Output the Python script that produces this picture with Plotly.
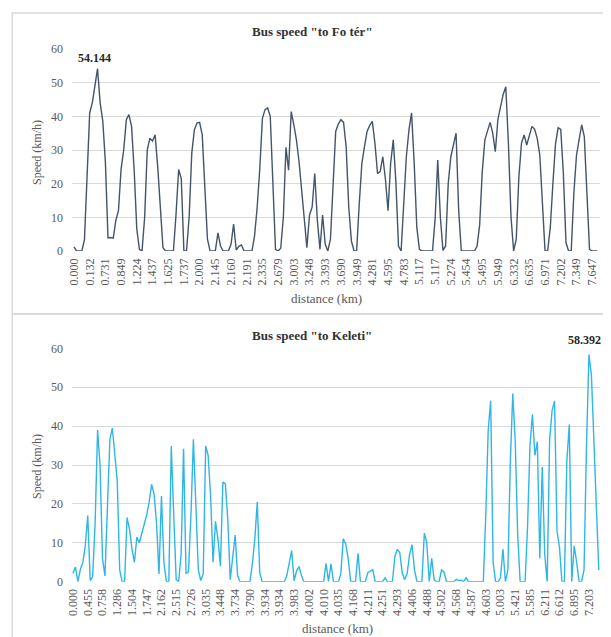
import plotly.graph_objects as go
import numpy as np

# ---------------- data ----------------
top_title = 'Bus speed "to Fo tér"'
bottom_title = 'Bus speed "to Keleti"'

top_tick_labels = ["0.000", "0.132", "0.731", "0.849", "1.224", "1.437", "1.625", "1.737",
                   "2.000", "2.145", "2.160", "2.191", "2.335", "2.679", "3.003", "3.248",
                   "3.393", "3.690", "3.949", "4.281", "4.595", "4.783", "5.117", "5.117",
                   "5.274", "5.454", "5.495", "5.949", "6.332", "6.635", "6.971", "7.202",
                   "7.349", "7.647"]

bottom_tick_labels = ["0.000", "0.455", "0.758", "1.286", "1.504", "1.747", "2.162", "2.515",
                      "2.726", "3.035", "3.448", "3.734", "3.790", "3.934", "3.934", "3.983",
                      "4.002", "4.010", "4.035", "4.168", "4.211", "4.251", "4.293", "4.406",
                      "4.488", "4.502", "4.568", "4.587", "4.603", "5.003", "5.421", "5.585",
                      "6.211", "6.612", "6.895", "7.203"]

# speed readings (km/h), one per sample; a distance label every 6 samples
top_speed = [1.2, 0, 0, 0, 3.4, 22, 41, 44, 49.5, 54.144,
             44, 38.6, 26.4, 3.9, 4, 3.8, 9.1, 12, 24.4, 30,
             39, 40.5, 37, 24, 6.5, 0.5, 0, 10, 30, 33.5,
             32.7, 34.5, 25, 11, 1, 0, 0, 0, 0, 11,
             24.2, 21.5, 0, 0, 10, 29, 36, 38, 38.2, 34.5,
             18, 3.5, 0, 0, 0, 5.4, 1.5, 0, 0, 0,
             2, 8, 0.3, 1.4, 1.8, 0, 0, 0, 0, 4.5,
             13, 24.5, 39.4, 42, 42.5, 40, 22, 0.5, 0, 0.8,
             10, 30.8, 24, 41.4, 37.5, 33, 26.5, 18.5, 11, 1,
             10.7, 13, 23, 9, 0.5, 10.7, 2, 0, 3.5, 21,
             35.5, 37.7, 39, 38.2, 31, 13, 3, 0, 0, 14,
             26, 31, 35.5, 37.3, 38.5, 32, 23, 23.6, 28, 21.4,
             12, 26, 33, 20.6, 1.5, 0, 15, 28, 36, 41,
             26, 7, 0.5, 0, 0, 0, 0, 0, 9.6, 27,
             10, 0.2, 1.5, 20, 28, 32, 35, 12, 0, 0,
             0, 0, 0, 0, 1.3, 7.6, 23.5, 33, 35.6, 38.2,
             35, 29.5, 39.2, 42.5, 46.5, 48.8, 32, 10, 0, 3.5,
             22, 32, 34.5, 31.5, 34, 37, 36.2, 33.5, 28.5, 12,
             0, 0, 7, 20, 31.8, 36.6, 36.1, 23, 2.5, 0,
             0, 17, 28.3, 33, 37.5, 34, 18, 0.5, 0, 0,
             0]

bottom_speed = [2.2, 3.8, 0, 3.2, 4.9, 9.3, 17, 0.3, 1.3, 15,
                39, 30, 6, 1.5, 19, 36.5, 39.5, 32, 26, 3,
                0, 0, 16.5, 13.5, 8.4, 5, 11.5, 10, 12.5, 14.8,
                17.2, 20.5, 25, 22.5, 15, 2, 22, 5, 0, 0,
                34.9, 17, 0.5, 0, 7, 34.2, 2.2, 2.5, 17, 36.6,
                17, 3, 0.3, 2, 34.9, 32.5, 22, 5, 15.5, 11,
                4, 25.6, 25.2, 16, 0.5, 5.5, 12, 1.5, 0, 0,
                0, 0, 0, 4.5, 11, 20.5, 2.3, 0, 0, 0,
                0, 0, 0, 0, 0, 0, 0, 1.5, 4.7, 8,
                0.2, 2.8, 3.9, 1.5, 0, 0, 0, 0, 0, 0,
                0, 0, 0, 4.7, 0.1, 4.6, 0, 0, 0, 2,
                11, 9.7, 6, 0.1, 0, 0, 7.3, 0, 0, 0,
                2.3, 2.8, 3.1, 0, 0, 0, 0, 1, 0, 0,
                0, 6.5, 8.3, 7.5, 2.3, 0.5, 2.1, 7, 9.5, 3,
                0, 0, 0, 12.5, 10, 0, 6, 0.5, 0, 0,
                3, 2.5, 0, 0, 0, 0, 0.6, 0.3, 0.4, 0,
                1, 0, 0, 0, 0, 0, 0, 0, 17, 39,
                46.5, 5, 0, 0, 1, 8.4, 0, 3, 31, 48.4,
                36, 12, 0, 0, 0, 14, 35, 43, 32.5, 36,
                6, 29.5, 7, 0, 36.6, 44, 46.5, 13, 8.9, 0,
                0, 31, 40.4, 0, 9.2, 5, 0, 0, 3, 35,
                58.392, 53.2, 35, 22, 3]

LABEL_STEP = 6

# ---------------- helpers ----------------
# the page body adds an 8px margin, so the figure is placed at (8, 8)
OFF = 8
W, H = 611 - OFF, 637 - OFF


def px(x):
    return (x - OFF) / W


def py(y):
    return 1 - (y - OFF) / H


SERIF = "Liberation Serif, Times New Roman, serif"
TICK_FONT = dict(family=SERIF, size=12, color="#595959")
GRID = "#d9d9d9"

fig = go.Figure()
fig.add_trace(go.Scatter(x=list(range(len(top_speed))), y=top_speed, mode="lines",
                         line=dict(color="#44546A", width=1.4), xaxis="x", yaxis="y",
                         hoverinfo="skip", showlegend=False))
fig.add_trace(go.Scatter(x=list(range(len(bottom_speed))), y=bottom_speed, mode="lines",
                         line=dict(color="#2EB6E8", width=1.4), xaxis="x2", yaxis="y2",
                         hoverinfo="skip", showlegend=False))


def xaxis_cfg(labels, rng, anchor):
    return dict(domain=[px(72), px(600)], range=rng, anchor=anchor, automargin=False,
                tickvals=[i * LABEL_STEP for i in range(len(labels))], ticktext=labels,
                tickangle=-90, tickfont=TICK_FONT, showgrid=False, zeroline=False,
                showline=False, ticks="", ticklabelstandoff=4)


def yaxis_cfg(top_px, bot_px, anchor):
    return dict(domain=[py(bot_px), py(top_px)], range=[0, 60], dtick=10, anchor=anchor,
                automargin=False,
                tickfont=TICK_FONT, showgrid=True, gridcolor=GRID, gridwidth=1,
                zeroline=False, showline=False, ticks="", ticklabelstandoff=8)


fig.update_layout(
    width=W, height=H, margin=dict(l=0, r=0, t=0, b=0, autoexpand=False),
    paper_bgcolor="white", plot_bgcolor="white",
    xaxis=xaxis_cfg(top_tick_labels, [-0.76, 201.0], "y"),
    yaxis=yaxis_cfg(49, 251, "x"),
    xaxis2=xaxis_cfg(bottom_tick_labels, [-0.41, 214.5], "y2"),
    yaxis2=yaxis_cfg(348.3, 581.7, "x2"),
)


def paper_text(text, x, y, size=12, color="#595959", angle=0):
    return dict(text=text, x=px(x), y=py(y), xref="paper", yref="paper",
                xanchor="center", yanchor="middle", textangle=angle, showarrow=False,
                font=dict(family=SERIF, size=size, color=color))


annotations = [
    paper_text("<b>%s</b>" % top_title, 312, 32, size=13, color="#333333"),
    paper_text("<b>%s</b>" % bottom_title, 312, 335, size=13, color="#333333"),
    paper_text("Speed (km/h)", 37, 153, angle=-90),
    paper_text("Speed (km/h)", 37, 467, angle=-90),
    paper_text("distance (km)", 326, 298, size=13),
    paper_text("distance (km)", 338, 628, size=13),
]
# peak labels
it = int(np.argmax(top_speed))
annotations.append(dict(text="<b>%.3f</b>" % top_speed[it], x=it, y=top_speed[it], xref="x", yref="y",
                        showarrow=False, xanchor="center", yanchor="bottom", yshift=2, xshift=-3,
                        font=dict(family=SERIF, size=12, color="#262626")))
ib = int(np.argmax(bottom_speed))
annotations.append(dict(text="<b>%.3f</b>" % bottom_speed[ib], x=ib, y=bottom_speed[ib], xref="x2", yref="y2",
                        showarrow=False, xanchor="center", yanchor="bottom", yshift=6, xshift=-4,
                        font=dict(family=SERIF, size=12, color="#262626")))
fig.update_layout(annotations=annotations)

# chart-area frames
shapes = [
    dict(type="rect", xref="paper", yref="paper", x0=px(12.3), x1=1.02, y0=py(314), y1=py(13),
         line=dict(color=GRID, width=1.5), fillcolor="rgba(0,0,0,0)", layer="below"),
    dict(type="rect", xref="paper", yref="paper", x0=px(12.3), x1=1.02, y0=-0.05, y1=py(314),
         line=dict(color=GRID, width=1.5), fillcolor="rgba(0,0,0,0)", layer="below"),
]
fig.update_layout(shapes=shapes)

fig.write_html("out.html")
